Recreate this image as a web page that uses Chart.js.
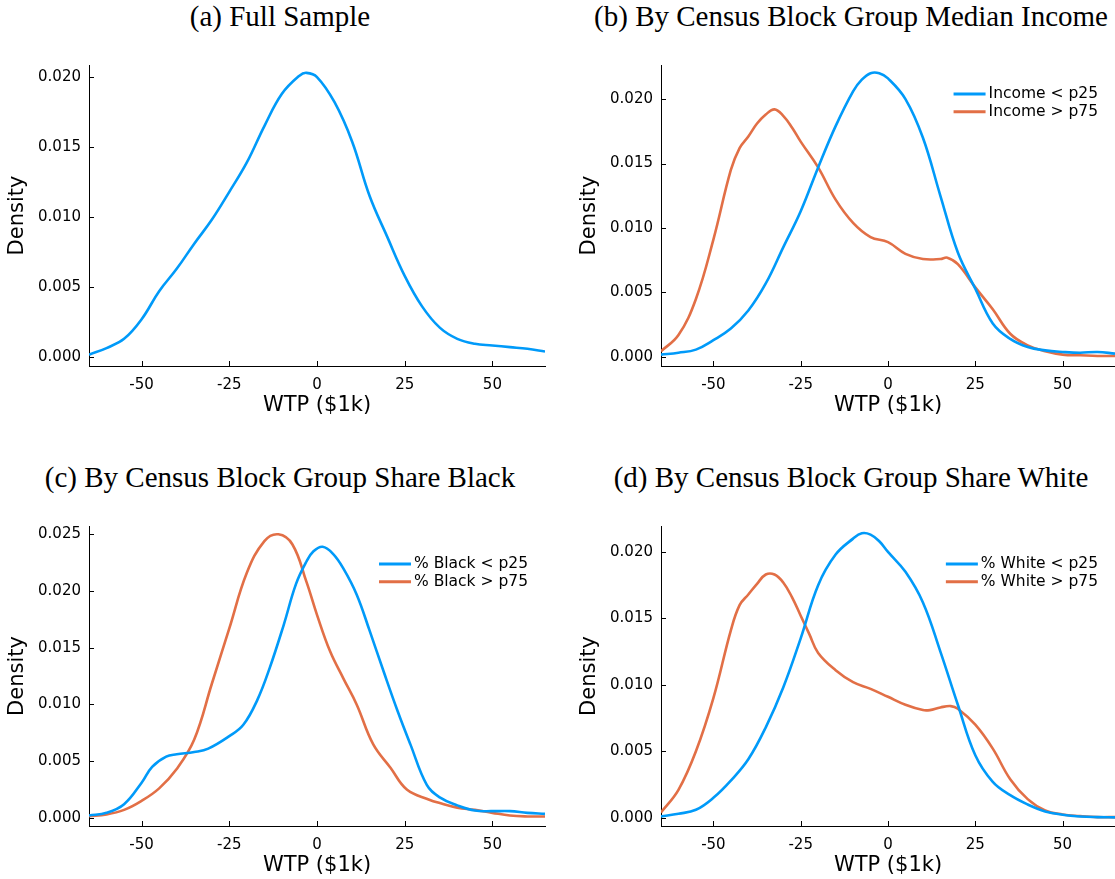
<!DOCTYPE html>
<html><head><meta charset="utf-8">
<script src="https://cdn.jsdelivr.net/npm/chart.js@4/dist/chart.umd.min.js"></script>
<style>
html,body{margin:0;padding:0;background:#fff;overflow:hidden;width:1115px;height:879px;position:relative;}
.ttl{position:absolute;font-family:"Liberation Serif",serif;font-size:29px;line-height:29px;white-space:nowrap;transform:translateX(-50%);color:#000;}
canvas{position:absolute;}
</style></head><body>
<div class="ttl" style="left:280px;top:2px">(a) Full Sample</div>
<div class="ttl" style="left:851px;top:2px">(b) By Census Block Group Median Income</div>
<div class="ttl" style="left:280px;top:463px">(c) By Census Block Group Share Black</div>
<div class="ttl" style="left:851px;top:463px">(d) By Census Block Group Share White</div>
<canvas id="ca" width="560" height="380" style="left:0;top:40px"></canvas>
<canvas id="cb" width="543" height="380" style="left:572px;top:40px"></canvas>
<canvas id="cc" width="560" height="380" style="left:0;top:500px"></canvas>
<canvas id="cd" width="543" height="380" style="left:572px;top:500px"></canvas>
<script>
// ---------- data ----------
const xTicks = [-50, -25, 0, 25, 50];
const yTicks20 = [0, 0.005, 0.010, 0.015, 0.020];
const yTicks25 = [0, 0.005, 0.010, 0.015, 0.020, 0.025];

// (a) Full sample
const fullX = [-65,-60,-55,-50,-45,-40,-35,-30,-25,-20,-15,-10,-5,-3,0,5,10,15,20,25,30,35,40,45,50,55,60,65];
const fullY = [0.00017,0.00064,0.0013,0.0027,0.0047,0.0063,0.0081,0.0098,0.0118,0.0139,0.0165,0.0188,0.0201,0.0203,0.0200,0.0182,0.0154,0.0115,0.0086,0.0058,0.0036,0.0021,0.0013,0.00095,0.00083,0.00071,0.00059,0.0004];

// (b) Median income
const incLowX = [-65,-60,-55,-50,-45,-40,-35,-30,-25,-20,-15,-10,-7.5,-5,-2.5,0,5,10,15,20,25,30,35,40,45,50,55,60,65];
const incLowY = [0.00018,0.00033,0.00057,0.0013,0.0022,0.0036,0.0057,0.0085,0.0113,0.0147,0.0179,0.0206,0.0215,0.0220,0.0220,0.0216,0.0200,0.0170,0.0125,0.0081,0.0053,0.0026,0.0014,0.00077,0.00051,0.00039,0.00033,0.00039,0.00026];
const incHighX = [-65,-60,-55,-50,-45,-42.5,-40,-37.5,-35,-32.5,-30,-27.5,-25,-20,-15,-10,-5,0,5,10,15,17,20,25,30,35,40,45,50,55,60,65];
const incHighY = [0.00044,0.0017,0.0045,0.0091,0.0145,0.0162,0.0171,0.0181,0.0188,0.0192,0.0187,0.0178,0.0167,0.0147,0.0122,0.0104,0.0093,0.0089,0.0080,0.0076,0.0076,0.0077,0.0072,0.0054,0.0037,0.0018,0.0009,0.00044,0.00018,0.00013,0.00008,0.00008];

// (c) Share Black
const blkLowX = [-65,-60,-55,-50,-47,-43,-40,-35,-31,-25,-21,-17,-13.5,-9.5,-6,-3,-1,1.6,4.5,7.5,11.3,15,19,23,26.6,31.3,35,40,45,50,55,60,65];
const blkLowY = [0.0002,0.00044,0.0012,0.0031,0.0045,0.0054,0.0056,0.0058,0.0061,0.0072,0.0082,0.0104,0.0132,0.0170,0.0206,0.0226,0.0235,0.0239,0.0233,0.0220,0.0197,0.0165,0.0129,0.0094,0.0065,0.0029,0.0018,0.0011,0.00064,0.00059,0.00059,0.00044,0.00035];
const blkHighX = [-65,-60,-55,-50,-45,-40,-35,-30,-25,-20,-15,-11,-7,-3,0,3.7,7.5,11.3,16,21,25.6,32,35,40,45,50,55,60,65];
const blkHighY = [0.00015,0.0003,0.0007,0.0015,0.0026,0.0043,0.0069,0.0118,0.0167,0.0216,0.0244,0.0250,0.0241,0.0208,0.0179,0.0147,0.0123,0.0100,0.0065,0.0044,0.0025,0.0016,0.0013,0.0009,0.0007,0.00044,0.0002,0.00012,0.00012];

// (d) Share White
const whtLowX = [-65,-60,-55,-50,-45,-40,-35,-30,-25,-20,-15,-10,-7.5,-5,-2.5,0,5,10,15,20,25,30,35,40,45,50,55,60,65];
const whtLowY = [0.0001,0.0003,0.0006,0.0015,0.0028,0.0044,0.0068,0.0098,0.0135,0.0175,0.0198,0.0210,0.0214,0.0213,0.0208,0.0200,0.0185,0.0162,0.0125,0.0085,0.0047,0.0027,0.0017,0.0010,0.00048,0.00023,0.0001,0.00005,0.00003];
const whtHighX = [-65,-60,-55,-50,-45,-42.5,-40,-37.5,-35,-32.5,-30,-27.5,-25,-22.5,-20,-15,-10,-5,0,5,10,12,15,18,20,25,30,35,40,45,50,55,60,65];
const whtHighY = [0.0004,0.0021,0.0050,0.0090,0.0141,0.0160,0.0168,0.0176,0.0183,0.0183,0.0177,0.0166,0.0152,0.0138,0.0124,0.0111,0.0102,0.0097,0.0091,0.0085,0.0081,0.0081,0.0083,0.0084,0.0082,0.0070,0.0052,0.0029,0.0014,0.00055,0.00025,0.00013,0.00005,0.00005];

// ---------- styling ----------
const BLUE = '#009AF9';
const ORANGE = '#E26F46';
Chart.defaults.font.family = '"DejaVu Sans", sans-serif';
Chart.defaults.color = '#000';

const pts = (xs, ys) => xs.map((x, i) => ({x: x, y: ys[i]}));

const inwardTicks = {
  id: 'inwardTicks',
  afterDatasetsDraw(chart) {
    const {ctx, chartArea: a, scales: {x, y}} = chart;
    ctx.save();
    ctx.strokeStyle = '#000';
    ctx.lineWidth = 1;
    ctx.beginPath();
    x.ticks.forEach(t => {
      const px = Math.round(x.getPixelForValue(t.value)) + 0.5;
      ctx.moveTo(px, a.bottom); ctx.lineTo(px, a.bottom - 5);
    });
    y.ticks.forEach(t => {
      const py = Math.round(y.getPixelForValue(t.value)) + 0.5;
      ctx.moveTo(a.left, py); ctx.lineTo(a.left + 5, py);
    });
    ctx.stroke();
    ctx.restore();
  }
};

const innerLegend = {
  id: 'innerLegend',
  afterDatasetsDraw(chart, args, opts) {
    if (!opts || !opts.show) return;
    const {ctx, chartArea: a} = chart;
    ctx.save();
    ctx.font = '15.5px "DejaVu Sans"';
    const ds = chart.data.datasets;
    const w = Math.max(...ds.map(d => ctx.measureText(d.label).width));
    const tx = a.right - opts.right - w;
    ds.forEach((d, i) => {
      const yy = a.top + opts.top + i * opts.rowH;
      ctx.strokeStyle = d.borderColor;
      ctx.lineWidth = 3;
      ctx.beginPath(); ctx.moveTo(tx - 35, yy); ctx.lineTo(tx - 3, yy); ctx.stroke();
      ctx.fillStyle = '#000';
      ctx.textBaseline = 'middle';
      ctx.textAlign = 'left';
      ctx.fillText(d.label, tx, yy);
    });
    ctx.restore();
  }
};
Chart.register(inwardTicks, innerLegend);

function makeChart(id, datasets, yTicks, ymin, ymax, padRight, padTop, legendTop) {
  return new Chart(document.getElementById(id), {
    type: 'line',
    data: {datasets: datasets.map(d => ({
      label: d.label, data: d.data, borderColor: d.color, backgroundColor: d.color,
      borderWidth: 2.6, pointRadius: 0, fill: false, tension: 0.4
    }))},
    options: {
      responsive: false,
      animation: false,
      layout: {padding: {left: 0, top: padTop, right: padRight, bottom: 0}},
      plugins: {
        legend: {display: false},
        tooltip: {enabled: false},
        innerLegend: {show: datasets.length > 1, right: 17, top: legendTop, rowH: 17.7}
      },
      scales: {
        x: {
          type: 'linear', min: -65, max: 65,
          afterBuildTicks: s => { s.ticks = xTicks.map(v => ({value: v})); },
          afterFit: s => { s.height = 54; },
          grid: {display: false, drawTicks: false},
          border: {display: true, color: '#000', width: 1},
          ticks: {padding: 10, color: '#000', font: {size: 15}, maxRotation: 0, callback: v => String(v)},
          title: {display: true, text: 'WTP ($1k)', color: '#000', font: {size: 21}, padding: {top: 0, bottom: 2}}
        },
        y: {
          type: 'linear', min: ymin, max: ymax,
          afterBuildTicks: s => { s.ticks = yTicks.map(v => ({value: v})); },
          afterFit: s => { s.width = 89; },
          grid: {display: false, drawTicks: false},
          border: {display: true, color: '#000', width: 1},
          ticks: {padding: 8, color: '#000', font: {size: 15}, callback: v => Number(v).toFixed(3)},
          title: {display: true, text: 'Density', color: '#000', font: {size: 21}, padding: {top: 5, bottom: 0}}
        }
      }
    }
  });
}

makeChart('ca', [{label: 'Full Sample', data: pts(fullX, fullY), color: BLUE}],
  yTicks20, -0.00064, 0.02086, 15, 25, 29);
makeChart('cb', [
  {label: 'Income < p25', data: pts(incLowX, incLowY), color: BLUE},
  {label: 'Income > p75', data: pts(incHighX, incHighY), color: ORANGE}],
  yTicks20, -0.0007, 0.02264, 0, 25, 29);
makeChart('cc', [
  {label: '% Black < p25', data: pts(blkLowX, blkLowY), color: BLUE},
  {label: '% Black > p75', data: pts(blkHighX, blkHighY), color: ORANGE}],
  yTicks25, -0.00072, 0.02573, 15, 26, 38);
makeChart('cd', [
  {label: '% White < p25', data: pts(whtLowX, whtLowY), color: BLUE},
  {label: '% White > p75', data: pts(whtHighX, whtHighY), color: ORANGE}],
  yTicks20, -0.00062, 0.02195, 0, 26, 38);
</script>
</body></html>
